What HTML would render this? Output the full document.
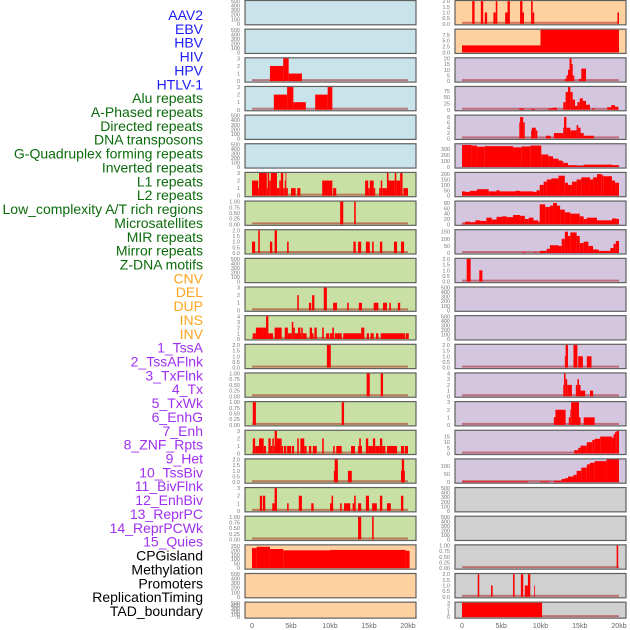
<!DOCTYPE html>
<html><head><meta charset="utf-8">
<style>
html,body{margin:0;padding:0;background:#fff;}
svg{display:block;font-family:"Liberation Sans",sans-serif;}
</style></head>
<body>
<svg id="chart" width="630" height="630" viewBox="0 0 630 630" xmlns="http://www.w3.org/2000/svg"></svg>
<script>
const trackLabels = ["AAV2","EBV","HBV","HIV","HPV","HTLV-1","Alu repeats","A-Phased repeats","Directed repeats","DNA transposons","G-Quadruplex forming repeats","Inverted repeats","L1 repeats","L2 repeats","Low_complexity A/T rich regions","Microsatellites","MIR repeats","Mirror repeats","Z-DNA motifs","CNV","DEL","DUP","INS","INV","1_TssA","2_TssAFlnk","3_TxFlnk","4_Tx","5_TxWk","6_EnhG","7_Enh","8_ZNF_Rpts","9_Het","10_TssBiv","11_BivFlnk","12_EnhBiv","13_ReprPC","14_ReprPCWk","15_Quies","CPGisland","Methylation","Promoters","ReplicationTiming","TAD_boundary"];
const labelColors = ["#1c1cf5","#1c1cf5","#1c1cf5","#1c1cf5","#1c1cf5","#1c1cf5","#0b6b0b","#0b6b0b","#0b6b0b","#0b6b0b","#0b6b0b","#0b6b0b","#0b6b0b","#0b6b0b","#0b6b0b","#0b6b0b","#0b6b0b","#0b6b0b","#0b6b0b","#ffa520","#ffa520","#ffa520","#ffa520","#ffa520","#a030f0","#a030f0","#a030f0","#a030f0","#a030f0","#a030f0","#a030f0","#a030f0","#a030f0","#a030f0","#a030f0","#a030f0","#a030f0","#a030f0","#a030f0","#000","#000","#000","#000","#000"];
const xTickValues = [0,5,10,15,20];
const xTickLabels = ["0","5kb","10kb","15kb","20kb"];

const tEmpty = [0,100,200,300,400,500];
const t3 = [0,1,2,3];
const t4 = [0,1,2,3,4];
const t2 = [0,0.5,1,1.5,2];
const t1 = [0,0.25,0.5,0.75,1];

// left column segments [startKb, endKb, value]
const L_HBV = [[2.3,4.0,2],[4.0,4.7,3],[4.7,6.4,1]];
const L_HIV = [[2.8,4.5,2],[4.5,5.3,3],[5.3,6.9,1],[8.1,9.7,2],[9.7,10.3,3]];
const L_Alu = [[0,0.8,2],[0.8,0.9,1],[0.9,1.9,3],[1.9,2.0,1],[2.0,2.2,3],[2.2,2.4,2],[2.4,3.2,3],[3.2,3.5,1],[3.5,3.7,2],[3.7,4.0,3],[4.0,4.2,1],[4.2,4.3,2],[4.3,4.4,3],[4.4,4.6,1],[5.0,5.6,1],[5.8,6.2,1],[9.0,10.3,2],[10.4,10.8,1],[14.5,14.9,2],[14.9,15.1,1],[15.1,15.6,2],[15.6,15.8,1],[16.3,16.5,1],[16.5,16.7,2],[16.7,17.3,1],[17.3,17.5,3],[17.5,18.3,2],[18.3,18.5,3],[18.5,19.0,2],[19.0,19.3,3],[19.4,20.0,1]];
const L_APhased = [[11.3,11.7,1],[13.1,13.3,1]];
const L_Directed = [[0,0.4,1],[0.8,1.0,2],[2.3,2.6,1],[2.9,3.2,2],[4.5,4.7,1],[13.0,13.3,1],[13.6,14.0,1],[14.6,15.1,1],[15.4,15.6,1],[16.4,16.7,1],[18.2,18.6,1],[19.1,19.5,1]];
const L_GQuad = [[5.8,6.0,2],[7.3,7.6,1],[7.7,8.0,2],[9.2,9.6,3],[10.4,10.9,1],[12.2,12.4,1],[13.7,14.1,1],[15.6,16.2,1],[16.8,17.3,1],[17.6,17.8,1],[18.7,19.0,1]];
const L_Inverted = [[0.1,0.5,1],[0.5,1.4,2],[1.4,1.8,2],[1.8,2.1,4],[2.1,2.7,1],[2.9,3.8,2],[4.2,4.6,2],[4.6,5.1,1],[5.1,5.3,3],[5.3,5.5,2],[5.5,5.9,1],[5.9,6.2,2],[6.2,6.3,1],[6.3,6.5,2],[6.5,7.0,1],[7.4,7.7,2],[7.7,7.9,1],[8.0,8.3,2],[9.0,9.2,2],[9.5,9.9,1],[10.0,10.3,1],[10.3,10.5,2],[10.6,11.5,1],[11.7,14.0,1],[14.0,14.4,2],[14.7,15.0,1],[15.2,15.6,1],[15.9,16.2,1],[16.5,19.6,1],[19.7,20.1,1]];
const L_L1 = [[9.6,10.1,2]];
const L_L2 = [[14.7,15.1,1],[16.5,16.8,1]];
const L_LowComplex = [[0.1,0.5,1],[11.5,11.8,1]];
const L_Microsat = [[0.1,0.4,2],[0.4,0.9,1],[0.9,1.5,2],[1.5,1.8,1],[2.1,2.4,2],[2.4,2.6,1],[2.6,2.8,2],[2.8,2.9,1],[2.9,3.2,3],[3.2,3.6,2],[3.6,3.8,2],[3.8,4.0,1],[4.1,4.4,1],[4.5,5.0,1],[5.1,5.4,1],[5.8,6.0,2],[6.2,6.7,2],[6.7,7.0,1],[7.3,7.6,1],[7.8,8.3,1],[9.0,9.2,2],[10.4,10.6,1],[10.8,11.5,1],[12.7,13.2,1],[13.6,14.1,1],[13.75,13.95,2],[14.6,14.9,2],[14.9,15.5,1],[15.5,15.8,2],[15.8,16.4,1],[16.4,16.7,2],[16.7,17.1,1],[17.3,18.6,1],[19.1,19.5,1],[19.6,20.0,1]];
const L_MIR = [[10.5,11.0,1],[10.6,11.0,2],[12.3,12.8,1],[19.1,19.6,1],[19.2,19.5,2]];
const L_Mirror = [[1.0,1.3,2],[1.4,1.7,2],[2.6,2.9,1],[2.9,3.2,3],[4.5,4.7,1],[6.0,6.4,2],[7.6,7.9,1],[10.0,10.4,1],[10.2,10.4,2],[11.3,11.5,1],[11.8,12.6,1],[12.9,13.1,1],[13.1,13.3,2],[13.6,14.0,1],[14.6,15.0,2],[15.4,16.0,1],[16.4,16.7,2],[17.3,17.8,1],[19.1,19.4,2]];
const L_ZDNA = [[13.6,14.0,1],[15.4,15.6,1]];
const L_CNV = [[0,0.6,225],[0.6,2.3,240],[2.3,4.0,215],[4.0,10.0,200],[10.0,19.7,205],[19.7,20.2,195]];

// right column segments
const R_INS = [[1.3,1.6,2],[2.4,2.7,2],[2.9,3.2,1],[4.0,4.3,1],[4.3,4.5,2],[5.5,5.8,1],[5.8,6.1,2],[7.4,7.7,2],[7.7,7.9,1],[8.8,9.0,2],[9.0,9.2,1],[19.8,20.0,1]];
const R_INV = [[0,10,3],[10,20,9.7]];
const R_TssA = [[13.1,13.3,2],[13.3,13.5,5],[13.5,13.7,10],[13.7,13.95,20],[13.95,14.1,15],[14.1,14.3,5],[14.9,15.2,2],[15.2,15.8,11]];
const R_TssAFlnk = [[7.3,7.9,5],[8.8,9.3,3],[11,11.5,5],[11.5,12.1,8],[12.9,13.2,30],[13.2,13.5,70],[13.5,13.8,90],[13.8,14.1,70],[14.1,14.4,40],[14.4,14.7,15],[14.7,15.0,30],[15.0,15.4,45],[15.4,15.8,35],[15.8,16.3,20],[16.6,16.9,5],[18.5,19.0,10],[19.0,19.5,18],[19.5,19.9,12]];
const R_TxFlnk = [[7.3,7.4,6],[7.4,7.8,8],[7.8,8.0,6],[8.8,8.9,3],[8.9,9.4,4],[9.4,9.6,3],[10.7,11.3,1],[11.7,12.9,2],[12.9,13.0,4],[13.0,13.3,8],[13.3,13.8,4],[13.8,14.6,3],[14.6,14.8,5],[14.8,15.1,4],[15.1,15.5,2],[15.5,16.8,1]];
const R_Tx = [[0,1.2,370],[1.2,1.9,360],[1.9,2.9,340],[2.9,6.5,350],[6.5,7.6,330],[7.6,8.7,345],[8.7,10.1,360],[10.1,11.0,210],[11.0,11.6,180],[11.6,12.3,140],[12.3,12.7,110],[12.7,12.9,100],[12.9,13.5,70],[13.5,14.6,30],[14.6,15.5,20],[15.5,19.1,40],[19.1,20,30]];
const R_TxWk = [[0,0.4,40],[0.4,1.0,35],[1.0,1.9,45],[1.9,3.4,60],[3.4,4.4,40],[4.4,4.8,50],[4.8,6.8,40],[6.8,7.4,45],[7.4,9.1,40],[9.1,9.5,35],[9.5,9.9,50],[9.9,10.4,100],[10.4,10.8,130],[10.8,11.4,150],[11.4,12.3,160],[12.3,13.1,185],[13.1,13.5,120],[13.5,14.0,100],[14.0,14.6,130],[14.6,15.2,150],[15.2,16.3,170],[16.3,16.7,150],[16.7,17.2,170],[17.2,17.8,200],[17.8,18.0,190],[18.0,19.1,180],[19.1,19.5,140],[19.5,20,120]];
const R_EnhG = [[0,0.4,3],[0.4,1.0,10],[1.0,1.7,8],[1.7,2.3,15],[2.3,3.1,13],[3.1,3.8,25],[3.8,4.4,18],[4.4,5.1,28],[5.1,5.7,30],[5.7,6.5,27],[6.5,7.4,35],[7.4,8.0,32],[8.0,8.5,20],[8.5,9.1,25],[9.1,9.7,15],[9.7,9.9,10],[9.9,10.6,75],[10.6,11.2,65],[11.2,11.6,70],[11.6,12.1,80],[12.1,12.5,70],[12.5,13.1,55],[13.1,13.8,45],[13.8,15.0,40],[15.0,15.5,30],[15.5,15.9,20],[15.9,17.2,25],[17.2,19.1,15],[19.1,19.7,22],[19.7,20,20]];
const R_Enh = [[7.7,8.0,5],[9.2,9.5,5],[9.9,10.8,15],[10.8,11.2,30],[11.2,12.3,55],[12.3,12.7,50],[12.7,13.1,100],[13.1,13.5,150],[13.5,13.8,120],[13.8,14.6,145],[14.6,15.0,120],[15.0,15.5,70],[15.5,16.1,80],[16.1,16.7,50],[16.7,17.4,25],[17.4,18.9,15],[18.9,19.3,35],[19.3,19.6,65],[19.6,20,85]];
const R_ZNF = [[0.6,1.1,2],[2.2,2.6,1]];
const R_TssBiv = [[13.1,13.2,1],[13.2,13.5,2],[14.2,14.7,2],[14.8,15.4,1],[15.9,16.5,1]];
const R_BivFlnk = [[12.9,13.0,2],[13.0,13.2,4],[13.2,13.4,3],[13.4,14.0,2],[14.5,14.7,2],[14.7,14.9,3],[14.9,15.1,2],[15.1,15.7,1],[16.3,16.7,1]];
const R_EnhBiv = [[11.7,11.9,1],[11.9,13.2,2],[13.6,13.8,1],[13.8,13.9,2],[13.9,14.9,3],[14.9,15.1,1],[15.5,16.9,1]];
const R_ReprPC = [[14.3,14.8,3],[14.8,15.1,5],[15.1,15.9,7],[15.9,16.6,10],[16.6,16.9,12],[16.9,17.6,13],[17.6,19.1,15],[19.1,19.3,14],[19.3,19.5,17],[19.5,19.7,19],[19.7,20,20]];
const R_ReprPCWk = [[0,8.45,5],[9.9,11.2,5],[11.7,12.7,8],[12.7,13.1,20],[13.1,13.5,25],[13.5,14.2,35],[14.2,14.6,45],[14.6,15.2,70],[15.2,15.9,90],[15.9,16.3,110],[16.3,16.9,120],[16.9,18.4,130],[18.4,20,140]];
const R_Methyl = [[19.7,19.9,1]];
const R_RepTiming = [[2.0,2.2,2],[3.7,3.9,1],[6.5,6.7,2],[7.5,7.8,2],[8.0,8.4,1],[8.4,8.7,2],[9.2,9.3,1]];
const R_TAD = [[0,10.2,3]];

const BLUE="#c8e3ea", GREEN="#c8e0a3", ORANGE="#ffd1a0", PURPLE="#d5c6e0", GRAY="#d0d0d0";
// each row: [bg, segs, ymax, ticks, tickDecimals]
const leftTracks = [
 [BLUE,null,500,tEmpty,0],[BLUE,null,500,tEmpty,0],[BLUE,L_HBV,3,t3,0],[BLUE,L_HIV,3,t3,0],[BLUE,null,500,tEmpty,0],[BLUE,null,500,tEmpty,0],
 [GREEN,L_Alu,3,t3,0],[GREEN,L_APhased,1,t1,2],[GREEN,L_Directed,2,t2,1],[GREEN,null,500,tEmpty,0],[GREEN,L_GQuad,3,t3,0],[GREEN,L_Inverted,4,t4,0],
 [GREEN,L_L1,2,t2,1],[GREEN,L_L2,1,t1,2],[GREEN,L_LowComplex,1,t1,2],[GREEN,L_Microsat,3,t3,0],[GREEN,L_MIR,2,t2,1],[GREEN,L_Mirror,3,t3,0],[GREEN,L_ZDNA,1,t1,2],
 [ORANGE,L_CNV,255,[0,50,100,150,200,250],0],[ORANGE,null,500,tEmpty,0],[ORANGE,null,500,tEmpty,0]];
const rightTracks = [
 [ORANGE,R_INS,2,t2,1],[ORANGE,R_INV,9.7,[0,2.5,5,7.5],1],
 [PURPLE,R_TssA,20,[0,5,10,15,20],0],[PURPLE,R_TssAFlnk,90,[0,25,50,75],0],[PURPLE,R_TxFlnk,8.5,[0,2,4,6,8],0],[PURPLE,R_Tx,380,[0,100,200,300],0],
 [PURPLE,R_TxWk,210,[0,50,100,150,200],0],[PURPLE,R_EnhG,85,[0,20,40,60,80],0],[PURPLE,R_Enh,160,[0,50,100,150],0],[PURPLE,R_ZNF,2,t2,1],
 [PURPLE,null,500,tEmpty,0],[PURPLE,null,500,tEmpty,0],[PURPLE,R_TssBiv,2,t2,1],[PURPLE,R_BivFlnk,4,t4,0],[PURPLE,R_EnhBiv,3,t3,0],
 [PURPLE,R_ReprPC,20,[0,5,10,15],0],[PURPLE,R_ReprPCWk,140,[0,50,100],0],
 [GRAY,null,500,tEmpty,0],[GRAY,null,500,tEmpty,0],[GRAY,R_Methyl,1,t1,2],[GRAY,R_RepTiming,2,t2,1],[GRAY,R_TAD,3,t3,0]];

const NS="http://www.w3.org/2000/svg";
const svg=document.getElementById('chart');
function mk(tag,attrs,parent){const e=document.createElementNS(NS,tag);for(const k in attrs)e.setAttribute(k,attrs[k]);(parent||svg).appendChild(e);return e;}

// labels
trackLabels.forEach((t,i)=>{
  const e=mk('text',{x:203,y:20+13.86*i,'text-anchor':'end','font-size':14,fill:labelColors[i]});
  e.textContent=t;
  
  
});

function xScaleL(kb){return 252+kb*7.8;}
function xScaleR(kb){return 462+kb*7.85;}

function drawColumn(tracks,px,pw,xs,side){
  tracks.forEach((tr,i)=>{
    const [bg,segs,ymax,ticks,dec]=tr;
    const T=0.5+28.65*i;
    const H=(i===21)?16:24.3;
    const g=mk('g',{});
    
    
    const rect=mk('rect',{x:px,y:T,width:pw,height:H,fill:bg,stroke:'#606060','stroke-width':1.2},g);
    
    
    const y0=T+H-1;
    const ys=v=>y0-v/ymax*(H-1.6);
    if(segs){
      const bl=mk('rect',{x:xs(0),y:y0-2,width:xs(20)-xs(0),height:2,fill:'rgba(170,20,20,0.5)'},g);
      
      
      segs.forEach(s=>{
        const b=mk('rect',{x:xs(s[0]),y:ys(s[2]),width:Math.max(0.8,xs(s[1])-xs(s[0])),height:y0-ys(s[2]),fill:'#ff0000'},g);
        
        
      });
    }
    ticks.forEach(v=>{
      const t=mk('text',{x:px-5,y:ys(v)+2,'text-anchor':'end','font-size':5.5,fill:'#777'},g);
      t.textContent=v.toFixed(dec);
      
      
    });
  });
  xTickValues.forEach((v,k)=>{
    const t=mk('text',{x:xs(v),y:628,'text-anchor':'middle','font-size':7,fill:'#666'});
    t.textContent=xTickLabels[k];
    
    
  });
}
drawColumn(leftTracks,245,171,xScaleL,'left');
drawColumn(rightTracks,455,171,xScaleR,'right');
</script>
</body></html>
